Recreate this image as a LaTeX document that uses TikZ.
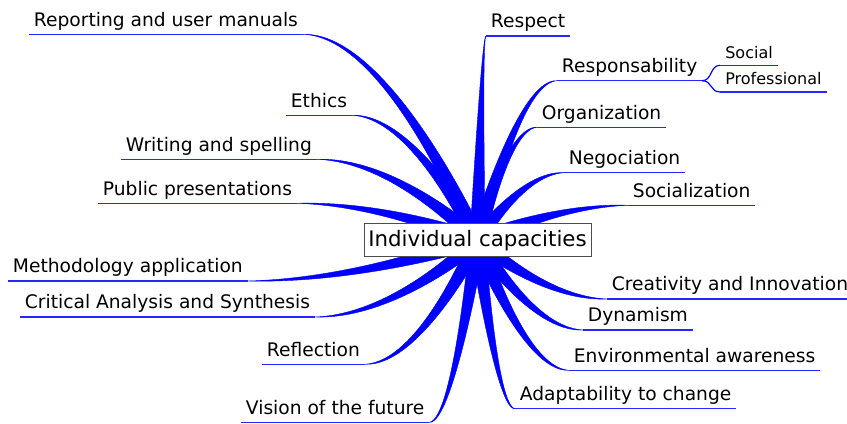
\documentclass[tikz,border=0pt]{standalone}
\usepackage{fontspec}
\setmainfont{DejaVu Sans}
\usetikzlibrary{calc,backgrounds}

% half width of a tapered branch at its root, and its swell near the far end
\newcommand\rootw{5.8pt}
\newcommand\tipw{2.2pt}

% tapered branch from the hub to an end point #1
\newcommand\tbranch[1]{%
  \path (#1) coordinate (be)
        ($(be)!0.5!(hub|-be)$) coordinate (bc)
        ($(hub)!\rootw!90:(bc)$) coordinate (bu)
        ($(hub)!\rootw!-90:(bc)$) coordinate (bl)
        ($(bc)!\tipw!90:(be)$) coordinate (bcu)
        ($(bc)!\tipw!-90:(be)$) coordinate (bcl);
  \filldraw[branch] (bu) .. controls (bu) and (bcu) .. (be)
                     .. controls (bcl) and (bl) .. (bl) -- cycle;
}

\tikzset{
  branch/.style={fill=blue, draw=blue, line width=0.3pt},
  uline/.style={draw=blue!85, line width=0.9pt},
  subedge/.style={draw=blue, line width=0.9pt},
  lbl/.style={anchor=south west, inner xsep=3.5pt, inner ysep=0pt,
    text height=11pt, text depth=6pt, font=\fontsize{14}{17}\selectfont},
  slbl/.style={anchor=south west, inner xsep=3.8pt, inner ysep=0pt,
    text height=9pt, text depth=5.25pt, font=\fontsize{12}{14}\selectfont},
  rootbox/.style={draw=black!70, line width=0.75pt, fill=white,
    inner sep=0pt, minimum width=170.25pt, minimum height=24.75pt,
    font=\fontsize{16}{19}\selectfont},
}

\begin{document}
\begin{tikzpicture}[x=0.75pt, y=-0.75pt]
\useasboundingbox (0,0) rectangle (847,424);

\coordinate (hub) at (477.5,240.5);
\node[rootbox] (ic) at (hub) {Individual capacities};

% left-hand topics
\node[lbl] (rep) at (29,34.3)   {Reporting and user manuals};
\node[lbl] (eth) at (286,115.3) {Ethics};
\node[lbl] (wri) at (121,159.3) {Writing and spelling};
\node[lbl] (pub) at (98,203.3)  {Public presentations};
\node[lbl] (met) at (8,281)     {Methodology application};
\node[lbl] (cri) at (20,317)    {Critical Analysis and Synthesis};
\node[lbl] (ref) at (262,364.3) {Reflection};
\node[lbl] (vis) at (241,422.3) {Vision of the future};

% right-hand topics
\node[lbl] (res) at (486,36)    {Respect};
\node[lbl] (rsp) at (557,80.7)  {Responsability};
\node[slbl] (soc) at (720,65.3) {Social};
\node[slbl] (pro) at (720,92)   {Professional};
\node[lbl] (org) at (537,127.3) {Organization};
\node[lbl] (neg) at (564,172.7) {Negociation};
\node[lbl] (sol) at (628,205.3) {Socialization};
\node[lbl] (cre) at (607,299)   {Creativity and Innovation};
\node[lbl] (dyn) at (583,330)   {Dynamism};
\node[lbl] (env) at (569,370.3) {Environmental awareness};
\node[lbl] (ada) at (515,408.7) {Adaptability to change};

% underlines
\foreach \n in {rep,eth,wri,pub,met,cri,ref,vis,res,rsp,soc,pro,org,neg,sol,cre,dyn,env,ada}
  \draw[uline] (\n.south west) -- (\n.south east);

% second-level edges
\draw[subedge] (rsp.south east) .. controls +(10,0) and +(-10,0) .. (soc.south west);
\draw[subedge] (rsp.south east) .. controls +(10,0) and +(-10,0) .. (pro.south west);

% tapered branches behind the root box
\begin{scope}[on background layer]
  \foreach \n in {rep,eth,wri,pub,met,cri,ref,vis}
    {\tbranch{\n.south east}}
  \foreach \n in {res,rsp,org,neg,sol,cre,dyn,env,ada}
    {\tbranch{\n.south west}}
\end{scope}
\end{tikzpicture}
\end{document}
